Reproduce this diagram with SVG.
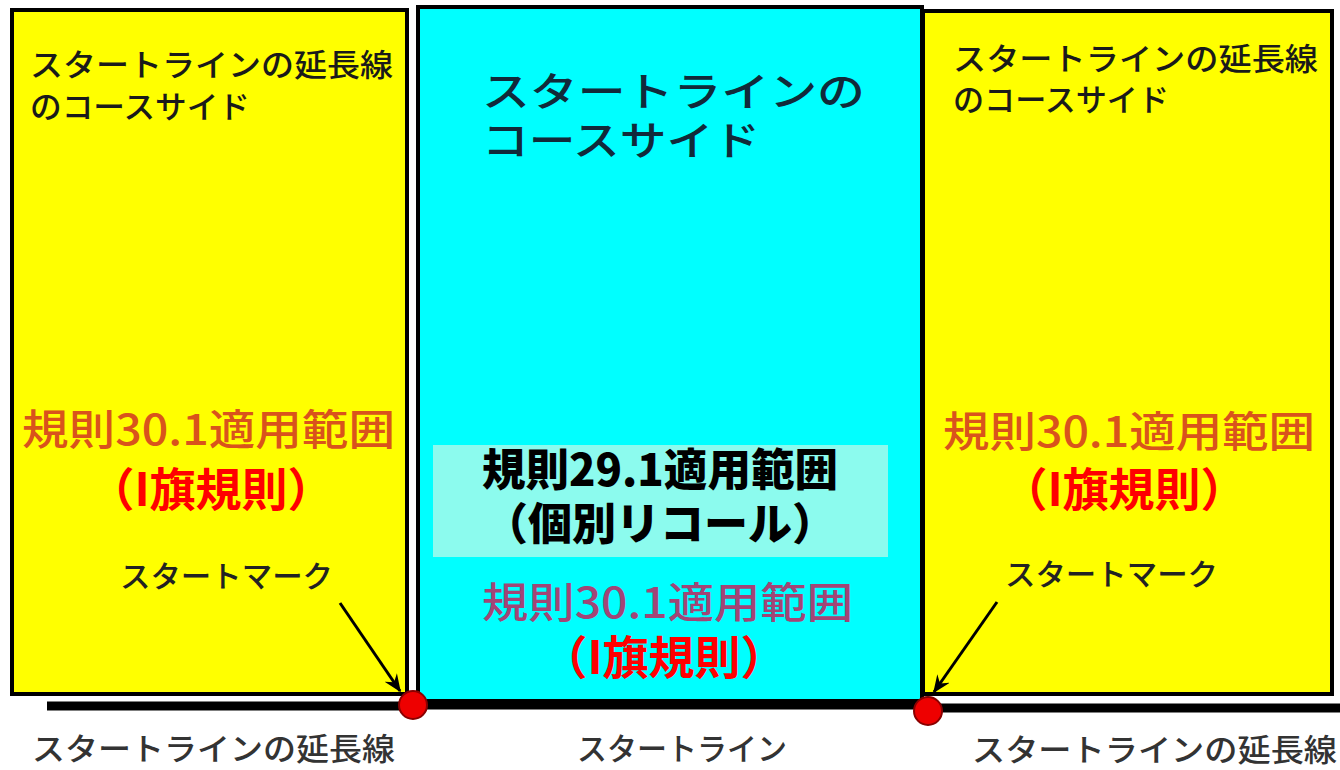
<svg xmlns="http://www.w3.org/2000/svg" width="1340" height="770" viewBox="0 0 1340 770">
<defs>
<style>
text{font-family:"Noto Sans CJK JP","Noto Sans",sans-serif;}
.side{fill:#ffff00;stroke:#000;stroke-width:4;}
.center{fill:#00ffff;stroke:#000;stroke-width:4;}
.dark{fill:#1a1a1a;font-size:31px;font-weight:500;}
.darkc{fill:#112a3a;font-size:40px;font-weight:500;}
.rule30y{fill:#d9531c;font-size:42px;font-weight:500;}
.rule30c{fill:#a24576;font-size:42px;font-weight:500;}
.iflag{fill:#ff0000;font-size:46px;font-weight:bold;text-anchor:middle;}
.rule29{fill:#000;font-size:44px;font-weight:900;text-anchor:middle;}
.mark{fill:#222;font-size:30px;font-weight:500;}
.bottom{fill:#333;font-size:31px;font-weight:500;}
.line{stroke:#000;stroke-width:9;}
.dot{fill:#ee0000;stroke:#8a0000;stroke-width:2;}
.arrow{stroke:#000;stroke-width:3;fill:none;}
</style>
<marker id="ah" viewBox="0 0 12 10" refX="11" refY="5" markerWidth="6" markerHeight="5" orient="auto" markerUnits="strokeWidth">
<path d="M0,0 L12,5 L0,10 L4,5 z" fill="#000"/>
</marker>
</defs>
<rect width="1340" height="770" fill="#fff"/>

<g id="left-zone">
<rect class="side" x="12" y="10" width="395" height="684"/>
<text class="dark" x="30" y="76" textLength="363" lengthAdjust="spacingAndGlyphs">スタートラインの延長線</text>
<text class="dark" x="30" y="118" textLength="220" lengthAdjust="spacingAndGlyphs">のコースサイド</text>
<text class="rule30y" x="22" y="445" textLength="373" lengthAdjust="spacingAndGlyphs">規則30.1適用範囲</text>
<text class="iflag" x="211" y="506">（I旗規則）</text>
<text class="mark" x="120" y="587" textLength="213" lengthAdjust="spacingAndGlyphs">スタートマーク</text>
</g>

<g id="center-zone">
<rect class="center" x="418" y="7" width="504" height="694"/>
<text class="darkc" x="482" y="106" textLength="383" lengthAdjust="spacingAndGlyphs">スタートラインの</text>
<text class="darkc" x="482" y="155" textLength="278" lengthAdjust="spacingAndGlyphs">コースサイド</text>
<rect x="433" y="445" width="455" height="112" fill="#8cfbee"/>
<text class="rule29" x="660" y="486" textLength="356" lengthAdjust="spacingAndGlyphs">規則29.1適用範囲</text>
<text class="rule29" x="660" y="540">（個別リコール）</text>
<text class="rule30c" x="482" y="618" textLength="371" lengthAdjust="spacingAndGlyphs">規則30.1適用範囲</text>
<text class="iflag" x="664" y="674">（I旗規則）</text>
</g>

<g id="right-zone">
<rect class="side" x="923" y="11" width="409" height="683"/>
<text class="dark" x="953" y="70" textLength="365" lengthAdjust="spacingAndGlyphs">スタートラインの延長線</text>
<text class="dark" x="953" y="111" textLength="216" lengthAdjust="spacingAndGlyphs">のコースサイド</text>
<text class="rule30y" x="943" y="447" textLength="372" lengthAdjust="spacingAndGlyphs">規則30.1適用範囲</text>
<text class="iflag" x="1124" y="506">（I旗規則）</text>
<text class="mark" x="1005" y="585" textLength="213" lengthAdjust="spacingAndGlyphs">スタートマーク</text>
</g>

<g id="lines">
<line class="line" x1="47" y1="706" x2="415" y2="706"/>
<line class="line" x1="418" y1="705" x2="924" y2="705"/>
<line class="line" x1="926" y1="708" x2="1340" y2="708"/>
</g>

<g id="connectors">
<line class="arrow" x1="340" y1="603" x2="400" y2="691" marker-end="url(#ah)"/>
<line class="arrow" x1="997" y1="602" x2="934" y2="692" marker-end="url(#ah)"/>
</g>

<g id="start-marks">
<circle class="dot" cx="413" cy="705" r="14"/>
<circle class="dot" cx="928" cy="711" r="14"/>
</g>

<g id="bottom-labels">
<text class="bottom" x="32" y="760" textLength="363" lengthAdjust="spacingAndGlyphs">スタートラインの延長線</text>
<text class="bottom" x="577" y="760" textLength="210" lengthAdjust="spacingAndGlyphs">スタートライン</text>
<text class="bottom" x="972" y="761" textLength="365" lengthAdjust="spacingAndGlyphs">スタートラインの延長線</text>
</g>
</svg>
